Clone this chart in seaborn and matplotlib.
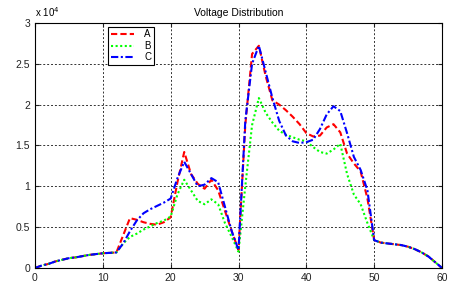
import numpy as np
import pandas as pd
import matplotlib
matplotlib.use('Agg')
import matplotlib.pyplot as plt
import seaborn as sns

# Datos (unidades de 10^4)
x = list(range(0, 61))

inicio = [0, 0.03, 0.05, 0.08, 0.10, 0.12, 0.13, 0.145, 0.16, 0.17, 0.18, 0.185]
final = [0.31, 0.30, 0.29, 0.28, 0.26, 0.23, 0.19, 0.14, 0.07, 0.0]

serie_a = [0.19, 0.40, 0.61, 0.59, 0.56, 0.54, 0.53, 0.56, 0.62, 1.05, 1.42, 1.15, 1.03,
           0.97, 1.08, 0.95, 0.70, 0.45, 0.22, 1.75, 2.62, 2.72, 2.35, 2.05, 2.00, 1.93,
           1.85, 1.76, 1.65, 1.61, 1.62, 1.72, 1.76, 1.66, 1.40, 1.28, 1.18, 0.85, 0.34]
serie_b = [0.19, 0.30, 0.38, 0.42, 0.47, 0.51, 0.55, 0.58, 0.63, 0.90, 1.08, 0.95, 0.82,
           0.78, 0.84, 0.78, 0.55, 0.38, 0.20, 1.00, 1.75, 2.08, 1.90, 1.78, 1.68, 1.63,
           1.60, 1.57, 1.55, 1.48, 1.42, 1.40, 1.45, 1.52, 1.15, 0.90, 0.78, 0.55, 0.34]
serie_c = [0.19, 0.30, 0.45, 0.58, 0.67, 0.72, 0.76, 0.80, 0.85, 1.10, 1.30, 1.15, 1.00,
           1.02, 1.10, 1.05, 0.75, 0.45, 0.22, 1.80, 2.50, 2.72, 2.40, 2.08, 1.80, 1.62,
           1.55, 1.53, 1.54, 1.57, 1.70, 1.88, 1.98, 1.92, 1.65, 1.36, 1.20, 0.95, 0.34]

df = pd.DataFrame({
    'x': x,
    'A': inicio + serie_a + final,
    'B': inicio + serie_b + final,
    'C': inicio + serie_c + final,
})

plt.rcParams['font.family'] = ['Liberation Sans', 'DejaVu Sans']
fig = plt.figure(figsize=(4.6, 2.86), dpi=100)
ax = fig.add_axes([0.076, 0.063, 0.885, 0.857])

sns.lineplot(data=df, x='x', y='A', color='red', linestyle=(0, (3, 1.5)), lw=1.5, label='A', ax=ax)
sns.lineplot(data=df, x='x', y='B', color='#00ff00', linestyle=(0, (1, 1.2)), lw=1.5, label='B', ax=ax)
sns.lineplot(data=df, x='x', y='C', color='blue', linestyle=(0, (3.5, 1.2, 1, 1.2)), lw=1.5, label='C', ax=ax)

ax.set_xlim(0, 60)
ax.set_ylim(0, 3)
ax.set_xticks(range(0, 61, 10))
ax.set_yticks([0, 0.5, 1, 1.5, 2, 2.5, 3])
ax.set_yticklabels(['0', '0.5', '1', '1.5', '2', '2.5', '3'])
ax.set_xlabel('')
ax.set_ylabel('')
ax.grid(True, color='#333333', linestyle=(0, (2, 2)), lw=0.7)
ax.tick_params(direction='in', labelsize=7.5, top=True, right=True, length=3, colors='#222222')
for s in ax.spines.values():
    s.set_linewidth(0.8)

ax.set_title('Voltage Distribution', fontsize=7.5, pad=5)
ax.text(0.0, 1.015, r'x 10$^4$', transform=ax.transAxes, fontsize=7, va='bottom', ha='left')

leg = ax.legend(loc='upper left', bbox_to_anchor=(0.18, 0.985), borderaxespad=0,
                fancybox=False, edgecolor='black', framealpha=1, fontsize=7,
                handlelength=2.4, labelspacing=0.15, borderpad=0.3, handletextpad=1.0)
leg.get_frame().set_linewidth(0.8)

fig.savefig('out.png', dpi=100)
